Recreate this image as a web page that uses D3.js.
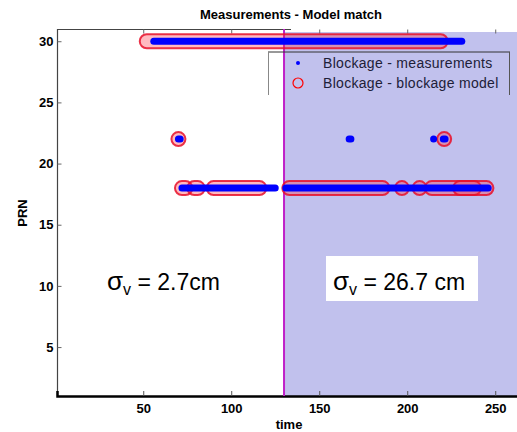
<!DOCTYPE html>
<html>
<head>
<meta charset="utf-8">
<script src="https://cdn.jsdelivr.net/npm/d3@7"></script>
<style>
  body { margin: 0; background: #fff; }
  svg { display: block; }
  text { font-family: "Liberation Sans", Arial, sans-serif; }
</style>
</head>
<body>
<svg id="chart" width="517" height="432"></svg>
<script>
// blocked satellites, [PRN, first epoch, last epoch]
let measured = [[30, 56, 231], [22, 70, 71], [22, 167, 168], [22, 215, 215], [22, 220.5, 221.5],
                [18, 72, 125], [18, 131, 246]];
let modelled = [[30, 52, 219], [22, 70, 70], [22, 221, 221], [18, 72, 74], [18, 79, 81],
                [18, 90, 116], [18, 133, 186], [18, 197, 197], [18, 207, 207],
                [18, 214, 238], [18, 230, 245]];
let xTicks = [50, 100, 150, 200, 250];
let yTicks = [5, 10, 15, 20, 25, 30];
let switchTime = 130;
let sigmaLeft = "2.7cm";
let sigmaRight = "26.7 cm";
let legendNames = ["Blockage - measurements", "Blockage - blockage model"];

let svg = d3.select("#chart");

let x = d3.scaleLinear().domain([1, 263]).range([57, 518.1]);
let y = d3.scaleLinear().domain([1, 31]).range([396, 29]);

// shaded part after the switch
svg.append("rect")
   .attr("x", x(switchTime))
   .attr("y", 32)
   .attr("width", 520 - x(switchTime))
   .attr("height", y(1) - 32)
   .attr("fill", "#c1c1ed");

// frame
svg.append("line").attr("x1", 57).attr("x2", 291).attr("y1", 29.5).attr("y2", 29.5)
   .attr("stroke", "#444").attr("stroke-width", 1.2);
svg.append("line").attr("x1", 57.5).attr("x2", 57.5).attr("y1", 29).attr("y2", 396)
   .attr("stroke", "#444").attr("stroke-width", 1.2);

// axes
let xAxis = svg.append("g")
   .attr("transform", "translate(0," + y(1) + ")")
   .call(d3.axisBottom(x).tickValues(xTicks).tickSize(-5).tickPadding(8));
xAxis.select(".domain").attr("stroke", "#000").attr("stroke-width", 2.5);
xAxis.selectAll(".tick line").attr("stroke", "#555");

let topAxis = svg.append("g")
   .attr("transform", "translate(0,29.5)")
   .call(d3.axisTop(x).tickValues(xTicks).tickSize(-4).tickFormat(""));
topAxis.select(".domain").remove();
topAxis.selectAll(".tick line").attr("stroke", "#666");

let yAxis = svg.append("g")
   .attr("transform", "translate(57.5,0)")
   .call(d3.axisLeft(y).tickValues(yTicks).tickSize(-4).tickPadding(4));
yAxis.select(".domain").remove();
yAxis.selectAll(".tick line").attr("stroke", "#666");

svg.selectAll(".tick text")
   .attr("font-family", "'Liberation Sans', Arial, sans-serif")
   .attr("font-size", 13)
   .attr("font-weight", "bold")
   .attr("fill", "#000");

// switch marker
svg.append("line")
   .attr("x1", x(switchTime)).attr("x2", x(switchTime))
   .attr("y1", 29).attr("y2", y(1))
   .attr("stroke", "#c020c8").attr("stroke-width", 2);

// model circles (runs of overlapping circles)
let r = 7;
svg.append("g").selectAll("rect")
   .data(modelled)
   .enter()
   .append("rect")
   .attr("x", d => x(d[1]) - r)
   .attr("y", d => y(d[0]) - r)
   .attr("width", d => x(d[2]) - x(d[1]) + 2 * r)
   .attr("height", 2 * r)
   .attr("rx", r)
   .attr("fill", "rgba(255,40,60,0.32)")
   .attr("stroke", "#e8102a")
   .attr("stroke-opacity", 0.85)
   .attr("stroke-width", 2);

// measured points
svg.append("g").selectAll("line")
   .data(measured)
   .enter()
   .append("line")
   .attr("x1", d => x(d[1]))
   .attr("x2", d => x(d[2]))
   .attr("y1", d => y(d[0]))
   .attr("y2", d => y(d[0]))
   .attr("stroke", "#0000ff")
   .attr("stroke-width", 7)
   .attr("stroke-linecap", "round");

// legend
let lg = svg.append("g");
lg.append("line").attr("x1", 268).attr("x2", 510).attr("y1", 52).attr("y2", 52)
  .attr("stroke", "#333");
lg.append("line").attr("x1", 268.5).attr("x2", 268.5).attr("y1", 52).attr("y2", 95)
  .attr("stroke", "#888");
lg.append("line").attr("x1", 509.5).attr("x2", 509.5).attr("y1", 52).attr("y2", 95)
  .attr("stroke", "#555");
lg.append("circle").attr("cx", 298).attr("cy", 63).attr("r", 2).attr("fill", "#0000ff");
lg.append("circle").attr("cx", 298).attr("cy", 83).attr("r", 5)
  .attr("fill", "none").attr("stroke", "#ff0000").attr("stroke-width", 1.2);
lg.selectAll("text")
  .data(legendNames)
  .enter()
  .append("text")
  .attr("x", 323)
  .attr("y", (d, i) => 68 + i * 20)
  .attr("font-size", 14)
  .attr("letter-spacing", 0.3)
  .attr("fill", "#202038")
  .text(d => d);

// annotations
svg.append("rect").attr("x", 326).attr("y", 256).attr("width", 152).attr("height", 45)
   .attr("fill", "#fff");

function sigmaText(xPos, label) {
  let t = svg.append("text").attr("x", xPos).attr("y", 290)
             .attr("font-size", 23).attr("fill", "#000");
  t.append("tspan").attr("font-size", 26).text("\u03c3");
  t.append("tspan").attr("font-size", 16).attr("dy", 5).text("v");
  t.append("tspan").attr("dy", -5).text(" = " + label);
}
sigmaText(107, sigmaLeft);
sigmaText(333, sigmaRight);

// titles
svg.append("text").attr("x", 291).attr("y", 19).attr("text-anchor", "middle")
   .attr("font-size", 13).attr("font-weight", "bold").text("Measurements - Model match");
svg.append("text").attr("x", 289).attr("y", 429).attr("text-anchor", "middle")
   .attr("font-size", 13).attr("font-weight", "bold").text("time");
svg.append("text").attr("transform", "translate(27,213) rotate(-90)")
   .attr("text-anchor", "middle")
   .attr("font-size", 13).attr("font-weight", "bold").text("PRN");
</script>
</body>
</html>
